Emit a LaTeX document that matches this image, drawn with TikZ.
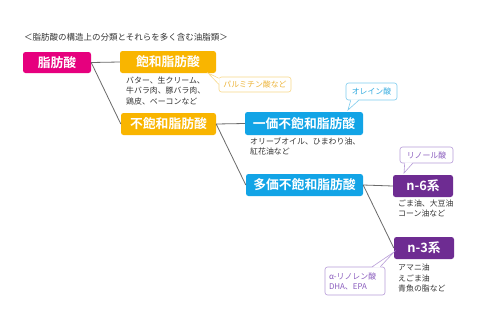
\documentclass[tikz,border=0pt]{standalone}
\usepackage{fontspec}
\setmainfont{Noto Sans CJK JP}[BoldFont={* Bold}]
\usetikzlibrary{calc}
\definecolor{cpink}{HTML}{E6007E}
\definecolor{corange}{HTML}{F9B500}
\definecolor{cblue}{HTML}{12A4E6}
\definecolor{cpurple}{HTML}{6E2C92}
\definecolor{cline}{HTML}{6A6A6A}
\definecolor{ctext}{HTML}{333333}
\definecolor{palmb}{HTML}{F8D98A}
\definecolor{palmt}{HTML}{EDB43A}
\definecolor{oleb}{HTML}{7FCCEE}
\definecolor{olet}{HTML}{34ACE0}
\definecolor{purb}{HTML}{B89CD8}
\definecolor{purt}{HTML}{8A5CBE}
\tikzset{
  catbox/.style={rounded corners=2.5pt, inner sep=0pt, text=white, font=\fontsize{12.8}{14}\selectfont\bfseries},
  desc/.style={anchor=north west, inner sep=0pt, align=left, text=ctext, font=\fontsize{7.9}{10.4}\selectfont},
  callout/.style={draw, line width=0.6pt, fill=white, rounded corners=2.5pt, inner sep=0pt, align=left, font=\fontsize{7.9}{10}\selectfont},
  conn/.style={draw=cline, line width=0.8pt}
}
\begin{document}
\begin{tikzpicture}[x=1pt,y=-1pt]
\useasboundingbox[fill=white] (0,0) rectangle (485,325);
\node[anchor=west, inner sep=0pt, text=ctext, font=\fontsize{8.5}{10}\selectfont] (title) at (24,37) {＜脂肪酸の構造上の分類とそれらを多く含む油脂類＞};

\node[catbox, fill=cpink, minimum width=68pt, minimum height=21pt] (fa) at (57,62.5) {脂肪酸};
\node[catbox, fill=corange, minimum width=96pt, minimum height=22pt] (sat) at (168,62) {飽和脂肪酸};
\node[catbox, fill=corange, minimum width=95pt, minimum height=22pt] (unsat) at (168.5,124) {不飽和脂肪酸};
\node[catbox, fill=cblue, minimum width=118pt, minimum height=23pt] (mono) at (304,123.5) {一価不飽和脂肪酸};
\node[catbox, fill=cblue, minimum width=117pt, minimum height=22pt] (poly) at (304.5,185) {多価不飽和脂肪酸};
\node[catbox, fill=cpurple, minimum width=60pt, minimum height=22pt] (n6) at (423,186) {n-6系};
\node[catbox, fill=cpurple, minimum width=60pt, minimum height=22pt] (n3) at (424,248) {n-3系};

\draw[conn] (fa.east) -- (sat.west);
\draw[conn] (fa.east) -- (unsat.west);
\draw[conn] (unsat.east) -- (mono.west);
\draw[conn] (unsat.east) -- (poly.west);
\draw[conn] (poly.east) -- (n6.west);
\draw[conn] (poly.east) -- (n3.west);

\node[desc] (satd) at (126,76.5) {バター、生クリーム、\\牛バラ肉、豚バラ肉、\\鶏皮、ベーコンなど};
\node[desc] (monod) at (250,137.5) {オリーブオイル、ひまわり油、\\紅花油など};
\node[desc] (n6d) at (398,199.5) {ごま油、大豆油\\コーン油など};
\node[desc] (n3d) at (398,264) {アマニ油\\えごま油\\青魚の脂など};

% callouts
\node[callout, draw=palmb, text=palmt, minimum width=72pt, minimum height=15pt] (palm) at (255,84.5) {パルミチン酸など};
\coordinate (palmtip) at (208,73);
\fill[white] ($(palm.north west)+(1,1.5)$) -- (palmtip) -- ($(palm.north west)+(1,7.5)$) -- cycle;
\draw[palmb, line width=0.6pt] ($(palm.north west)+(0,1.5)$) -- (palmtip) -- ($(palm.north west)+(0,7.5)$);

\node[callout, draw=oleb, text=olet, minimum width=51pt, minimum height=17pt] (ole) at (371.5,91.5) {オレイン酸};
\coordinate (oletip) at (348,110);
\fill[white] ($(ole.south west)+(5,-1)$) -- (oletip) -- ($(ole.south west)+(13,-1)$) -- cycle;
\draw[oleb, line width=0.6pt] ($(ole.south west)+(5,0)$) -- (oletip) -- ($(ole.south west)+(13,0)$);

\node[callout, draw=purb, text=purt, minimum width=53pt, minimum height=16pt] (lino) at (426.5,155) {リノール酸};
\coordinate (linotip) at (404,173);
\fill[white] ($(lino.south west)+(5,-1)$) -- (linotip) -- ($(lino.south west)+(13,-1)$) -- cycle;
\draw[purb, line width=0.6pt] ($(lino.south west)+(5,0)$) -- (linotip) -- ($(lino.south west)+(13,0)$);

\node[callout, draw=purb, text=purt, minimum width=60pt, minimum height=28pt, text width=52pt] (alin) at (355,281) {α-リノレン酸\\DHA、EPA};
\coordinate (alintip) at (394,252);
\fill[white] ($(alin.north east)+(-13,1)$) -- (alintip) -- ($(alin.north east)+(-5,1)$) -- cycle;
\draw[purb, line width=0.6pt] ($(alin.north east)+(-13,0)$) -- (alintip) -- ($(alin.north east)+(-5,0)$);
\end{tikzpicture}
\end{document}
